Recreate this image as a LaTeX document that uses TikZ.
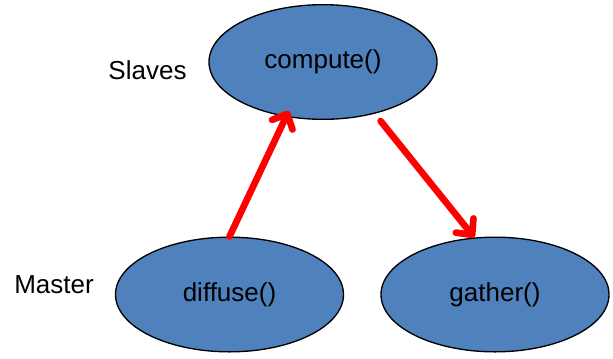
\documentclass[tikz,border=0pt]{standalone}
\usepackage{fontspec}
\setmainfont{Liberation Sans}
\usetikzlibrary{shapes.geometric, arrows.meta}

\definecolor{taskblue}{HTML}{4F81BD}

\begin{document}
\begin{tikzpicture}[x=0.75pt, y=-0.75pt,
  task/.style = {ellipse, draw, line width=1pt, fill=taskblue,
                 minimum width=171pt, minimum height=86pt, inner sep=0pt,
                 font=\fontsize{19.5}{22}\selectfont},
  role/.style = {font=\fontsize{19.5}{22}\selectfont},
  flow/.style = {red, line width=5pt, line cap=round,
                 -{Straight Barb[length=9pt, width=17pt, round]}}]
\useasboundingbox (0,0) rectangle (613,358);
% tasks
\node[task] (compute) at (323,62) {compute()};
\node[task] (diffuse) at (229.5,294.5) {diffuse()};
\node[task] (gather) at (495,294.5) {gather()};
% roles
\node[role] (slaves) at (147.5,70) {Slaves};
\node[role] (master) at (54,285) {Master};
% flow of data
\draw[flow, shorten >=-5pt] (diffuse.north) -- (compute.236);
\draw[flow, shorten <=7pt] (compute.315) -- (gather.110);
\end{tikzpicture}
\end{document}
